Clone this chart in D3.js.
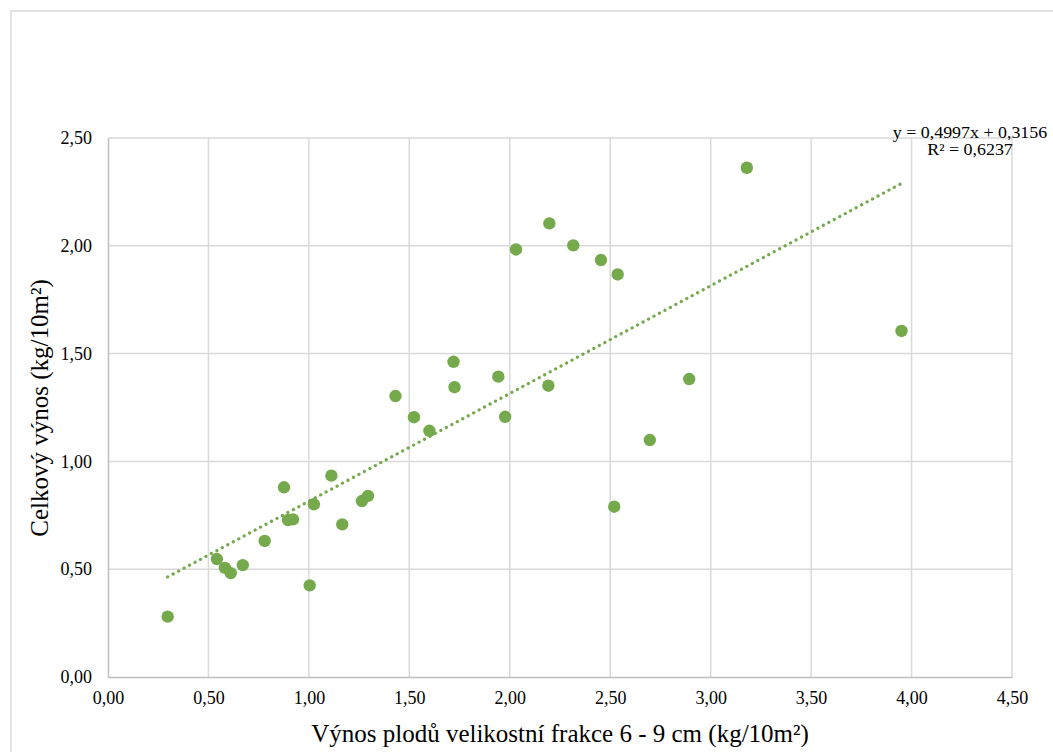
<!DOCTYPE html>
<html>
<head>
<meta charset="utf-8">
<script src="https://cdn.jsdelivr.net/npm/d3@7/dist/d3.min.js"></script>
<style>
  html, body { margin: 0; padding: 0; background: #fff; }
  svg { display: block; }
  text { font-family: "Liberation Serif", "Times New Roman", serif; fill: #000; }
</style>
</head>
<body>
<svg id="chart" width="1053" height="752"></svg>
<script>
// ---- data ----
const xValues = [0.297, 0.542, 0.582, 0.611, 0.671, 0.780, 0.876, 0.896, 0.921, 1.004, 1.025,
  1.112, 1.166, 1.264, 1.294, 1.431, 1.523, 1.600, 1.720, 1.725, 1.943, 1.977, 2.031, 2.192,
  2.197, 2.316, 2.454, 2.520, 2.537, 2.697, 2.893, 3.180, 3.950];
const yValues = [0.280, 0.547, 0.506, 0.482, 0.519, 0.631, 0.880, 0.728, 0.731, 0.425, 0.801,
  0.934, 0.708, 0.816, 0.840, 1.303, 1.205, 1.142, 1.462, 1.344, 1.393, 1.207, 1.983, 1.351,
  2.104, 2.002, 1.934, 0.790, 1.867, 1.099, 1.382, 2.362, 1.605];
const xTicks = [0, 0.5, 1, 1.5, 2, 2.5, 3, 3.5, 4, 4.5];
const yTicks = [0, 0.5, 1, 1.5, 2, 2.5];
const trendSlope = 0.4997;
const trendIntercept = 0.3156;
const equationLines = ["y = 0,4997x + 0,3156", "R² = 0,6237"];
const xTitle = "Výnos plodů velikostní frakce 6 - 9 cm (kg/10m²)";
const yTitle = "Celkový výnos (kg/10m²)";

// ---- layout ----
const svg = d3.select("#chart");
const plotLeft = 108, plotRight = 1012, plotTop = 138, plotBottom = 677;
const x = d3.scaleLinear().domain([0, 4.5]).range([plotLeft, plotRight]);
const y = d3.scaleLinear().domain([0, 2.5]).range([plotBottom, plotTop]);
const fmt = d => d3.format(".2f")(d).replace(".", ",");
const green = "#75aa4c";

// outer frame
svg.append("rect").attr("x", 11).attr("y", 11).attr("width", 1060).attr("height", 760)
  .attr("fill", "none").attr("stroke", "#d9d9d9").attr("stroke-width", 1.5);

// gridlines
svg.append("g").selectAll("line").data(xTicks.slice(1)).join("line")
  .attr("x1", d => x(d)).attr("x2", d => x(d)).attr("y1", plotTop).attr("y2", plotBottom)
  .attr("stroke", "#d9d9d9").attr("stroke-width", 1.5);
svg.append("g").selectAll("line").data(yTicks.slice(1)).join("line")
  .attr("x1", plotLeft).attr("x2", plotRight).attr("y1", d => y(d)).attr("y2", d => y(d))
  .attr("stroke", "#d9d9d9").attr("stroke-width", 1.5);

// axes
const xAxis = d3.axisBottom(x).tickValues(xTicks).tickFormat(fmt).tickSize(0).tickPadding(14);
const yAxis = d3.axisLeft(y).tickValues(yTicks).tickFormat(fmt).tickSize(0).tickPadding(16);
const gx = svg.append("g").attr("transform", `translate(0,${plotBottom})`).call(xAxis);
const gy = svg.append("g").attr("transform", `translate(${plotLeft},0)`).call(yAxis);
[gx, gy].forEach(g => {
  g.select(".domain").attr("stroke", "#bfbfbf").attr("stroke-width", 1.5);
  g.selectAll("text").style("font-family", '"Liberation Serif", serif').style("font-size", "18px").attr("fill", "#000");
});

// trendline
const xMin = d3.min(xValues), xMax = d3.max(xValues);
svg.append("line")
  .attr("x1", x(xMin)).attr("y1", y(trendSlope * xMin + trendIntercept))
  .attr("x2", x(xMax)).attr("y2", y(trendSlope * xMax + trendIntercept))
  .attr("stroke", green).attr("stroke-width", 3.2).attr("stroke-linecap", "round")
  .attr("stroke-dasharray", "0.1 6.1");

// points
svg.append("g").selectAll("circle").data(xValues.map((v, i) => [v, yValues[i]])).join("circle")
  .attr("cx", d => x(d[0])).attr("cy", d => y(d[1])).attr("r", 6.2).attr("fill", green);

// equation (two separate lines, slightly widened like the reference)
svg.append("g").attr("transform", "translate(970,0) scale(1.12,1)")
  .selectAll("text").data(equationLines).join("text")
  .attr("x", 0).attr("y", (d, i) => 138 + i * 17)
  .attr("text-anchor", "middle").style("font-size", "16px").text(d => d);

// axis titles
svg.append("text").attr("x", 560).attr("y", 742).attr("text-anchor", "middle")
  .style("font-size", "25px").text(xTitle);
svg.append("text").attr("transform", "translate(48,408) rotate(-90)").attr("text-anchor", "middle")
  .style("font-size", "25px").text(yTitle);
</script>
</body>
</html>
